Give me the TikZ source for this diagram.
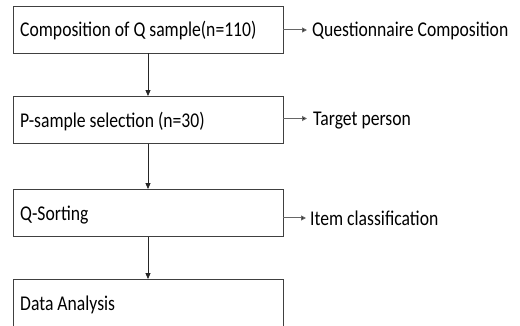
\documentclass[tikz,border=0pt]{standalone}
\usepackage{fontspec}
\setmainfont{Carlito}[FakeStretch=0.84]
\usetikzlibrary{arrows.meta}
\begin{document}
\begin{tikzpicture}[x=1pt,y=1pt,
  stepbox/.style={draw=black!75, line width=0.9pt, minimum width=270pt, minimum height=47pt, inner sep=0pt},
  boxtext/.style={anchor=base west, inner sep=0pt, font=\fontsize{21}{24}\selectfont},
  sidelabel/.style={anchor=base west, inner sep=0pt, font=\fontsize{21}{24}\selectfont},
  flow/.style={draw=black!85, line width=0.8pt, -{Triangle[length=6pt,width=5pt]}},
  side/.style={draw=black!60, line width=1pt, -{Triangle[length=5pt,width=5pt,fill=black]}}]
\useasboundingbox (0,0) rectangle (520,-326);
\node[stepbox] (b1) at (148,-29.5) {};
\node[stepbox] (b2) at (148,-120) {};
\node[stepbox] (b3) at (148,-213) {};
\node[stepbox] (b4) at (148,-303) {};
\node[boxtext] (t1) at (20,-36.5) {Composition of Q sample(n=110)};
\node[boxtext] (t2) at (20,-127.5) {P-sample selection (n=30)};
\node[boxtext] (t3) at (20,-220.5) {Q-Sorting};
\node[boxtext] (t4) at (20,-310.5) {Data Analysis};
\node[sidelabel] (l1) at (312,-37) {Questionnaire Composition};
\node[sidelabel] (l2) at (313,-126) {Target person};
\node[sidelabel] (l3) at (310,-225.5) {Item classification};
\coordinate (e1) at (307,-30);
\coordinate (e2) at (307,-118.5);
\coordinate (e3) at (306,-218);
\draw[flow] (b1) -- (b2);
\draw[flow] (b2) -- (b3);
\draw[flow] (b3) -- (b4);
\draw[side] (b1.east |- e1) -- (e1);
\draw[side] (b2.east |- e2) -- (e2);
\draw[side] (b3.east |- e3) -- (e3);
\end{tikzpicture}
\end{document}
